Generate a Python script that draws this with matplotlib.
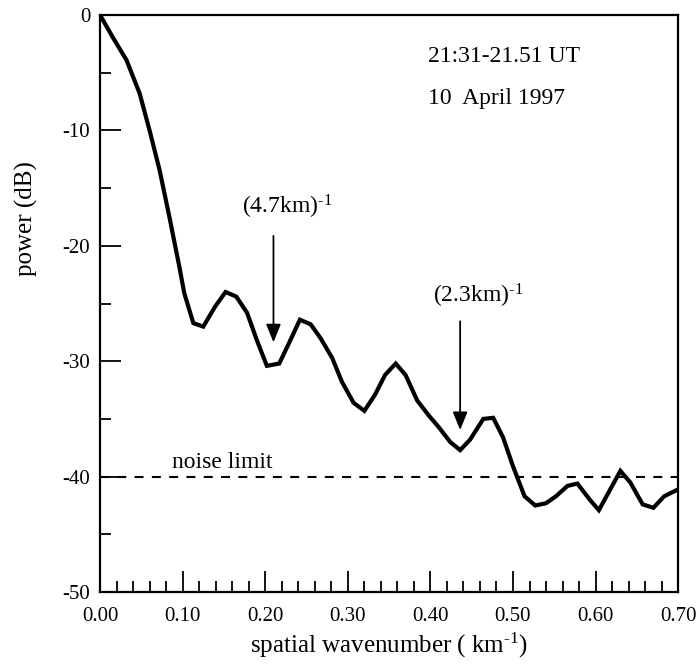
import matplotlib
matplotlib.use("Agg")
import matplotlib.pyplot as plt

# spectrum
wavenumber = [0, 0.016, 0.032, 0.048, 0.060, 0.072, 0.084, 0.096, 0.102, 0.113,
              0.125, 0.139, 0.152, 0.165, 0.178, 0.190, 0.202, 0.217, 0.229, 0.242,
              0.255, 0.267, 0.281, 0.293, 0.307, 0.320, 0.333, 0.345, 0.358, 0.370,
              0.384, 0.398, 0.410, 0.424, 0.436, 0.448, 0.464, 0.476, 0.488, 0.500,
              0.514, 0.527, 0.540, 0.552, 0.566, 0.578, 0.593, 0.604, 0.617, 0.630,
              0.642, 0.657, 0.670, 0.683, 0.700]
power_db = [0, -2, -3.9, -6.8, -10, -13.4, -17.5, -21.8, -24.1, -26.7,
            -27, -25.3, -24, -24.4, -25.8, -28.2, -30.4, -30.2, -28.4, -26.4,
            -26.8, -28, -29.7, -31.8, -33.6, -34.3, -32.9, -31.2, -30.2, -31.2,
            -33.4, -34.7, -35.7, -37, -37.7, -36.8, -35, -34.9, -36.6, -39.1,
            -41.7, -42.5, -42.3, -41.7, -40.8, -40.6, -42, -42.9, -41.2, -39.5,
            -40.5, -42.4, -42.7, -41.7, -41.1]
noise_limit = -40
x_ticks = [0.0, 0.1, 0.2, 0.3, 0.4, 0.5, 0.6, 0.7]
y_ticks = [0, -10, -20, -30, -40, -50]

plt.rcParams['font.family'] = ['Liberation Serif', 'DejaVu Serif']
plt.rcParams['mathtext.fontset'] = 'custom'
plt.rcParams['mathtext.rm'] = 'Liberation Serif'
plt.rcParams['mathtext.it'] = 'Liberation Serif:italic'
plt.rcParams['mathtext.bf'] = 'Liberation Serif:bold'
plt.rcParams['axes.unicode_minus'] = False

fig = plt.figure(figsize=(6.97, 6.66), dpi=100)
ax = fig.add_axes([0.1435, 0.111, 0.8295, 0.8665])

ax.plot(wavenumber, power_db, color='black', lw=3, solid_joinstyle='miter', zorder=3)
ax.plot([0, 0.7], [noise_limit, noise_limit], color='black', lw=1.5, dashes=[4.3, 4])

ax.set_xlim(0, 0.7)
ax.set_ylim(-50, 0)
ax.set_xticks(x_ticks)
ax.set_xticklabels(['%.2f' % v for v in x_ticks])
ax.set_yticks(y_ticks)
ax.set_xticks([i * 0.02 for i in range(36)], minor=True)
ax.set_yticks([-5, -15, -25, -35, -45], minor=True)
ax.tick_params(which='major', direction='in', length=15, width=1.3, labelsize=15)
ax.tick_params(which='minor', direction='in', length=8, width=1.3)
ax.tick_params(axis='x', pad=11)
ax.tick_params(axis='y', pad=7)
for sp in ax.spines.values():
    sp.set_linewidth(1.6)

ax.set_ylabel('power (dB)', fontsize=18)
ax.yaxis.set_label_coords(-0.107, 0.648)
ax.set_xlabel(r'spatial wavenumber ( km$^{\text{-1}}$)', fontsize=18)
ax.xaxis.set_label_coords(0.5, -0.068)

ax.text(0.397, -3.6, '21:31-21.51 UT', fontsize=17, va='center')
ax.text(0.397, -7.2, '10  April 1997', fontsize=17, va='center')
ax.text(0.148, -38.8, 'noise limit', fontsize=17, ha='center', va='center')

ax.annotate('', xy=(0.21, -28.6), xytext=(0.21, -18.9),
            arrowprops=dict(arrowstyle='-|>,head_length=1.1,head_width=0.45', color='black', lw=1.3))
ax.annotate('', xy=(0.436, -36.2), xytext=(0.436, -26.3),
            arrowprops=dict(arrowstyle='-|>,head_length=1.1,head_width=0.45', color='black', lw=1.3))
ax.text(0.2265, -16.6, r'(4.7km)$^{\text{-1}}$', fontsize=17, ha='center', va='center')
ax.text(0.458, -24.3, r'(2.3km)$^{\text{-1}}$', fontsize=17, ha='center', va='center')

fig.savefig('out.png', dpi=100)
